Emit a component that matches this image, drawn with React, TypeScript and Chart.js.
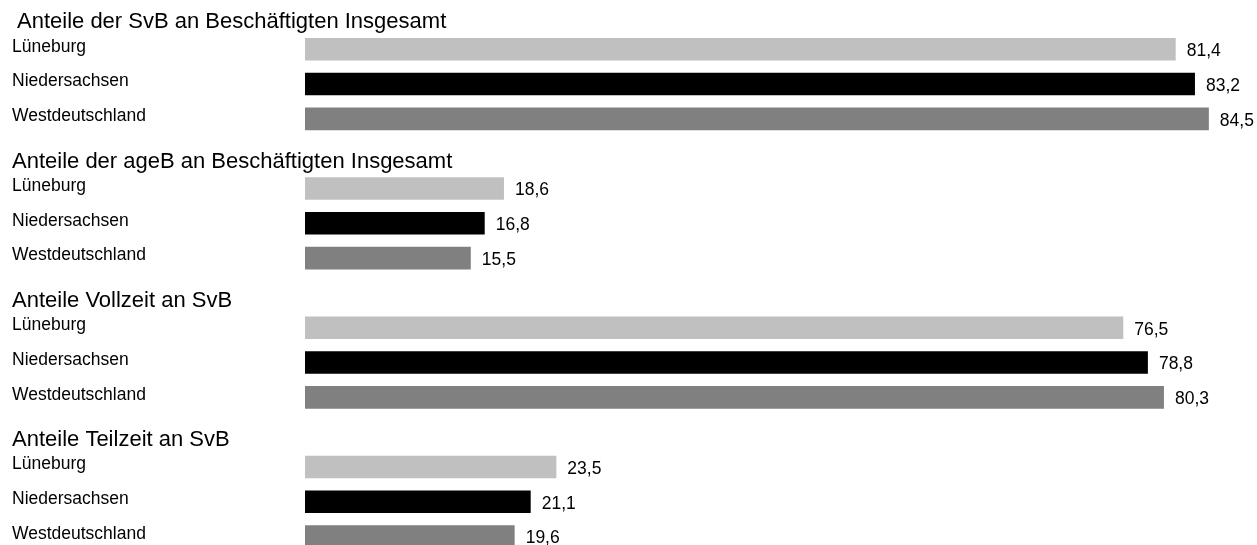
import React, { useEffect, useRef } from "react";
import { Chart, registerables } from "chart.js";

Chart.register(...registerables);

const groupTitles = [
  "Anteile der SvB an Beschäftigten Insgesamt",
  "Anteile der ageB an Beschäftigten Insgesamt",
  "Anteile Vollzeit an SvB",
  "Anteile Teilzeit an SvB",
];
const regions = ["Lüneburg", "Niedersachsen", "Westdeutschland"];
const svbShare = [81.4, 83.2, 84.5];
const agebShare = [18.6, 16.8, 15.5];
const vollzeitShare = [76.5, 78.8, 80.3];
const teilzeitShare = [23.5, 21.1, 19.6];
const groupValues = [svbShare, agebShare, vollzeitShare, teilzeitShare];
const regionColors = ["#c0c0c0", "#000000", "#808080"];

const FONT = '"Liberation Sans", Arial, sans-serif';

export default function App() {
  const ref = useRef<HTMLCanvasElement | null>(null);

  useEffect(() => {
    if (!ref.current) return;
    const labels: string[] = [];
    const data: (number | null)[] = [];
    const colors: string[] = [];
    const isTitle: boolean[] = [];
    const titleIdx: number[] = [];
    groupTitles.forEach((t, g) => {
      labels.push(t);
      data.push(null);
      colors.push("rgba(0,0,0,0)");
      isTitle.push(true);
      titleIdx.push(g);
      regions.forEach((r, i) => {
        labels.push(r);
        data.push(groupValues[g][i]);
        colors.push(regionColors[i]);
        isTitle.push(false);
        titleIdx.push(g);
      });
    });

    const textPlugin = {
      id: "texts",
      afterDatasetsDraw(chart: any) {
        const ctx = chart.ctx;
        const y = chart.scales.y;
        const x = chart.scales.x;
        ctx.save();
        ctx.fillStyle = "#000";
        ctx.textBaseline = "middle";
        labels.forEach((lab, i) => {
          const py = y.getPixelForValue(i);
          if (isTitle[i]) {
            ctx.font = `22px ${FONT}`;
            ctx.textAlign = "left";
            ctx.fillText(lab, titleIdx[i] === 0 ? 17 : 12, py + 8);
          } else {
            ctx.font = `17.5px ${FONT}`;
            ctx.textAlign = "left";
            ctx.fillText(lab, 12, py - 2.5);
            const v = data[i] as number;
            const px = x.getPixelForValue(v);
            ctx.fillText(v.toFixed(1).replace(".", ","), px + 11, py + 2);
          }
        });
        ctx.restore();
      },
    };

    const chart = new Chart(ref.current, {
      type: "bar",
      data: {
        labels,
        datasets: [
          {
            data,
            backgroundColor: colors,
            borderWidth: 0,
            barPercentage: 0.65,
            categoryPercentage: 1,
          },
        ],
      },
      options: {
        indexAxis: "y",
        animation: false,
        responsive: false,
        layout: { padding: { left: 305, right: 0, top: 0, bottom: 0 } },
        plugins: {
          legend: { display: false },
          tooltip: { enabled: false },
        },
        scales: {
          x: { display: false, min: 0, max: 89 },
          y: { display: false },
        },
      },
      plugins: [textPlugin],
    });
    return () => chart.destroy();
  }, []);

  return (
    <div
      style={{
        position: "fixed",
        left: 0,
        top: 0,
        width: 1257,
        height: 545,
        overflow: "hidden",
        background: "#fff",
      }}
    >
      <canvas
        ref={ref}
        width={1257}
        height={557}
        style={{ position: "absolute", left: 0, top: -3, display: "block" }}
      />
    </div>
  );
}
